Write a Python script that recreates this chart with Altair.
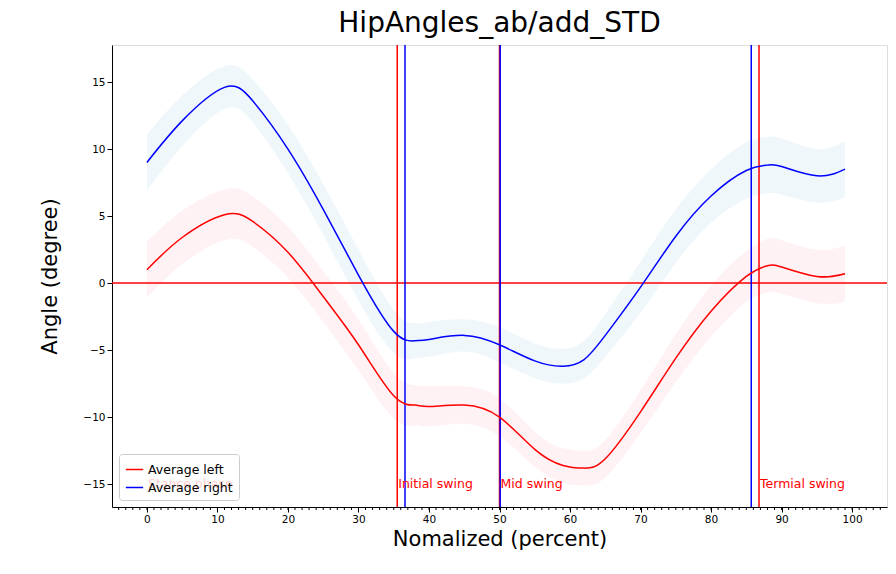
import pandas as pd
import altair as alt

pct = [0, 5, 11, 15, 20, 25, 30, 35, 38, 40, 45, 50, 55, 59, 62, 65, 70, 75, 80, 85, 88, 90, 95, 99]
left = [1.0, 3.4, 5.1, 4.6, 2.3, -1.0, -4.6, -8.4, -9.1, -9.2, -9.1, -10.0, -12.4, -13.6, -13.8, -13.1, -9.6, -5.6, -2.1, 0.5, 1.3, 1.2, 0.5, 0.7]
right = [9.0, 12.1, 14.6, 13.6, 10.0, 5.5, 0.6, -3.6, -4.3, -4.2, -3.9, -4.6, -5.8, -6.2, -5.7, -3.9, -0.3, 3.5, 6.5, 8.4, 8.8, 8.7, 8.0, 8.5]
left_std = [2.1, 2.0, 1.9, 1.9, 1.9, 1.9, 1.9, 1.7, 1.5, 1.5, 1.4, 1.4, 1.3, 1.3, 1.3, 1.4, 1.6, 1.8, 1.9, 1.9, 2.0, 2.0, 2.0, 2.1]
right_std = [2.1, 1.9, 1.6, 1.6, 1.8, 1.9, 1.9, 1.6, 1.3, 1.3, 1.2, 1.3, 1.3, 1.3, 1.4, 1.6, 1.9, 2.0, 2.0, 2.1, 2.1, 2.1, 2.0, 2.1]

vlines_x = [35.5, 36.6, 50.0, 50.1, 85.7, 86.8]
vlines_c = ["red", "blue", "red", "blue", "blue", "red"]
labels = ["Stance phase", "Initial swing", "Mid swing", "Termial swing"]
labels_x = [0, 35.5, 50.0, 86.8]

rows = []
for i, p in enumerate(pct):
    rows.append({"x": p, "y": left[i], "s": "Average left"})
    rows.append({"x": p, "y": right[i], "s": "Average right"})
df = pd.DataFrame(rows)

xs = alt.Scale(domain=[-4.95, 104.95], nice=False, zero=False)
ys = alt.Scale(domain=[-16.7, 17.76], nice=False, zero=False)
xax = alt.Axis(values=list(range(0, 101, 10)), title="Nomalized (percent)", grid=False, titleFontSize=21,
               titleFontWeight="normal", labelFontSize=10.5, titleColor="black", labelColor="black", domainColor="black", tickColor="black")
yax = alt.Axis(values=list(range(-15, 16, 5)), title="Angle (degree)", grid=False, titleFontSize=21,
               titleFontWeight="normal", labelFontSize=10.5, titleColor="black", labelColor="black", domainColor="black", tickColor="black", titlePadding=22)

band_df = pd.DataFrame({"x": pct, "l1": [a - b for a, b in zip(left, left_std)], "l2": [a + b for a, b in zip(left, left_std)],
                        "r1": [a - b for a, b in zip(right, right_std)], "r2": [a + b for a, b in zip(right, right_std)]})
band_l = alt.Chart(band_df).mark_area(color="pink", opacity=0.2, interpolate="natural").encode(
    x=alt.X("x:Q", scale=xs, axis=xax), y=alt.Y("l1:Q", scale=ys, axis=yax), y2="l2:Q")
band_r = alt.Chart(band_df).mark_area(color="lightblue", opacity=0.2, interpolate="natural").encode(
    x=alt.X("x:Q", scale=xs), y=alt.Y("r1:Q", scale=ys), y2="r2:Q")

minor = alt.Chart(pd.DataFrame({"x": list(range(-4, 105))})).mark_rule(color="black").encode(
    x=alt.X("x:Q", scale=xs), y=alt.value(462), y2=alt.value(465))

hline = alt.Chart(pd.DataFrame({"y": [0]})).mark_rule(color="red", strokeWidth=1.5).encode(y=alt.Y("y:Q", scale=ys))
vl = alt.Chart(pd.DataFrame({"x": vlines_x, "c": vlines_c})).mark_rule(strokeWidth=1.5).encode(
    x=alt.X("x:Q", scale=xs), color=alt.Color("c:N", scale=None))
txt = alt.Chart(pd.DataFrame({"x": labels_x, "t": labels, "y": [-15] * 4})).mark_text(
    color="red", align="left", baseline="middle", fontSize=12.5, dx=1).encode(
    x=alt.X("x:Q", scale=xs), y=alt.Y("y:Q", scale=ys), text="t:N")

lines = alt.Chart(df).mark_line(strokeWidth=1.5, interpolate="natural").encode(
    x=alt.X("x:Q", scale=xs), y=alt.Y("y:Q", scale=ys),
    color=alt.Color("s:N", scale=alt.Scale(domain=["Average left", "Average right"], range=["red", "blue"]),
                    legend=alt.Legend(title=None, orient="bottom-left", symbolType="stroke", labelFontSize=12.5,
                                      symbolSize=300, symbolStrokeWidth=1.5,
                                      fillColor="rgba(255,255,255,0.8)", strokeColor="#ccc", padding=6, offset=7, cornerRadius=3)))

chart = alt.layer(band_l, band_r, minor, hline, vl, txt, lines).properties(
    width=775, height=462, autosize="none",
    padding={"left": 104, "top": 37, "right": 1, "bottom": 59},
    title=alt.Title("HipAngles_ab/add_STD", fontSize=28, fontWeight="normal", offset=6)
).configure_view(stroke="black", strokeWidth=1).configure(font="DejaVu Sans")

chart.save("out.html", embed_options={"renderer": "svg", "actions": False})
